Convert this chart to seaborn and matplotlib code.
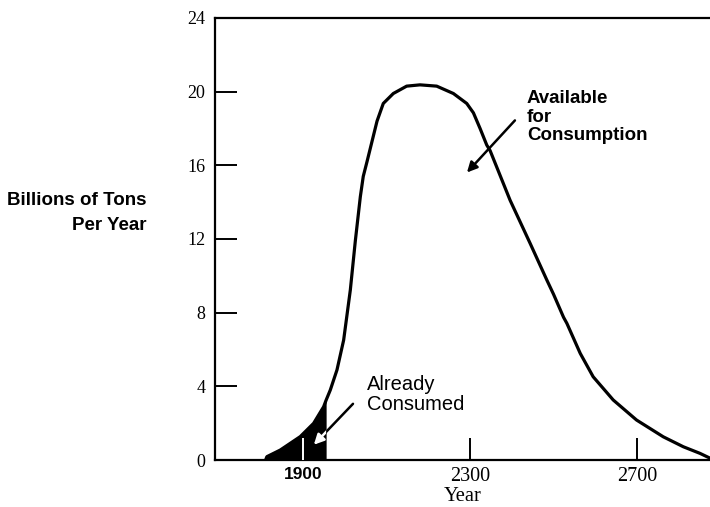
import numpy as np
import pandas as pd
import matplotlib
matplotlib.use("Agg")
import matplotlib.pyplot as plt
from matplotlib.patches import FancyArrowPatch
import seaborn as sns

# curve: year vs billions of tons per year
years = [1810, 1813, 1845, 1893, 1925, 1949, 1955, 1965, 1981, 1997, 2013,
         2025, 2037, 2044, 2053, 2065, 2077, 2092, 2116, 2148, 2180, 2220,
         2260, 2292, 2308, 2324, 2340, 2348, 2396, 2444, 2484, 2500, 2524,
         2532, 2564, 2595, 2643, 2699, 2763, 2811, 2851, 2875]
tons = [0.0, 0.18, 0.54, 1.27, 1.99, 2.89, 3.25, 3.80, 4.89, 6.51, 9.23,
        11.9, 14.3, 15.4, 16.2, 17.3, 18.4, 19.36, 19.9, 20.3, 20.37, 20.3,
        19.9, 19.36, 18.85, 18.0, 17.1, 16.8, 14.1, 11.76, 9.77, 9.0, 7.75,
        7.42, 5.79, 4.52, 3.26, 2.17, 1.26, 0.72, 0.36, 0.1]
consumed_until = 1955
x_ticks = [1900, 2300, 2700]
y_ticks = [0, 4, 8, 12, 16, 20, 24]

df = pd.DataFrame({"year": years, "tons": tons})

sns.set_style("white")
plt.rcParams["font.family"] = ["Liberation Serif", "DejaVu Serif"]
plt.rcParams.update({"text.color": "black", "axes.labelcolor": "black",
                     "xtick.color": "black", "ytick.color": "black"})

fig = plt.figure(figsize=(7.1, 5.07), dpi=100)
ax = fig.add_axes([0.303, 0.0927, 0.697, 0.8718])

sns.lineplot(data=df, x="year", y="tons", ax=ax, color="black", lw=2.3)
past = df[df["year"] <= consumed_until]
fill = ax.fill_between(past["year"], 0, past["tons"], color="black", lw=0,
                       zorder=0.5)

ax.set_xlim(1689, 2875)
ax.set_ylim(0, 24)
ax.set_xticks(x_ticks)
ax.set_yticks(y_ticks)
ax.tick_params(direction="in", length=16, width=1.4, bottom=True, left=True,
               top=False, right=False, colors="black")
ax.tick_params(axis="x", labelsize=14.5, pad=5)
ax.tick_params(axis="y", labelsize=13, pad=7)
ax.xaxis.set_zorder(3)

for s in ["left", "bottom", "top"]:
    ax.spines[s].set_linewidth(1.6)
    ax.spines[s].set_color("black")
ax.spines["right"].set_visible(False)

# 1900 tick is white inside the black area, label bold sans
t0 = ax.xaxis.get_major_ticks()[0]
t0.tick1line.set_color("white")
t0.tick1line.set_markeredgecolor("white")
lab = ax.get_xticklabels()[0]
lab.set_fontweight("bold")
lab.set_family("Liberation Sans")
lab.set_fontsize(12.5)
lab.set_color("black")

ax.set_xlabel("Year", fontsize=14.8, labelpad=1, color="black")
ax.set_ylabel("")

fig.text(0.207, 0.58, "Billions of Tons\nPer Year", ha="right", va="center",
         fontsize=13.5, fontweight="bold", family="Liberation Sans",
         linespacing=1.55, color="black")

ax.text(2054, 3.55, "Already\nConsumed", fontsize=14.5, family="Liberation Sans",
        va="center", ha="left", linespacing=1.05, color="black")

# arrow into the consumed area: black outside, white inside the fill
arr_kw = dict(arrowstyle="-|>", lw=1.8, mutation_scale=15)
ax.add_patch(FancyArrowPatch((2024, 3.16), (1921, 0.72), color="black", **arr_kw))
white_arr = FancyArrowPatch((2024, 3.16), (1921, 0.72), color="white", **arr_kw)
ax.add_patch(white_arr)
white_arr.set_clip_path(fill.get_paths()[0], ax.transData)

ax.text(2436, 18.62, "Available\nfor\nConsumption", fontsize=13.5,
        fontweight="bold", family="Liberation Sans", va="center", ha="left",
        linespacing=1.1, color="black")
ax.add_patch(FancyArrowPatch((2412, 18.55), (2288, 15.5), color="black",
                             **arr_kw))

fig.savefig("out.png", dpi=100)
